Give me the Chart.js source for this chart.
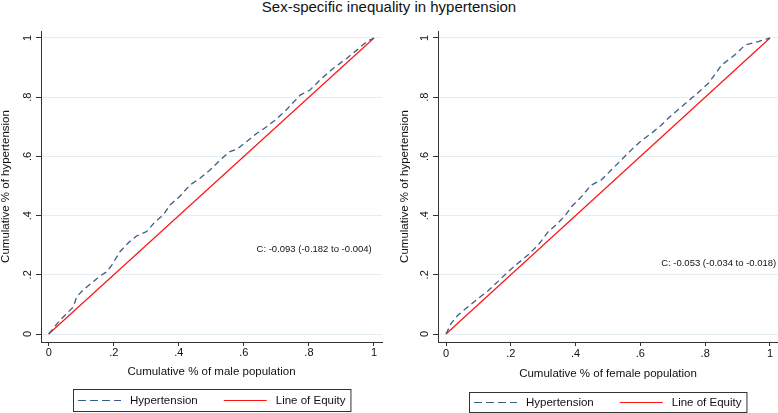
<!DOCTYPE html>
<html>
<head>
<meta charset="utf-8">
<script src="https://cdn.jsdelivr.net/npm/chart.js@4.4.0/dist/chart.umd.min.js"></script>
<style>
  body { margin: 0; background: #fff; width: 778px; height: 413px; position: relative; overflow: hidden; font-family: "Liberation Sans", Arial, sans-serif; }
  #title { position: absolute; top: -2px; left: 0; width: 778px; text-align: center; font-size: 15px; line-height: 18px; color: #111; }
  .panel { position: absolute; top: 0; width: 389px; height: 413px; }
</style>
</head>
<body>
<div id="title">Sex-specific inequality in hypertension</div>
<div class="panel" style="left:0"><canvas id="male" width="389" height="413"></canvas></div>
<div class="panel" style="left:389px"><canvas id="female" width="389" height="413"></canvas></div>
<script>
// ticks shared by both panels
var tickValues = [0, 0.2, 0.4, 0.6, 0.8, 1];
var tickLabels = ['0', '.2', '.4', '.6', '.8', '1'];
var seriesNames = ['Hypertension', 'Line of Equity'];

// concentration curve, men
var maleX = [0, 0.035, 0.076, 0.086, 0.106, 0.137, 0.158, 0.178, 0.194, 0.219, 0.245, 0.27, 0.301, 0.327, 0.352, 0.373, 0.404, 0.434, 0.465, 0.496, 0.527, 0.557, 0.578, 0.609, 0.64, 0.67, 0.70, 0.73, 0.773, 0.803, 0.834, 0.875, 0.916, 0.947, 0.978, 1];
var maleY = [0, 0.047, 0.092, 0.126, 0.149, 0.177, 0.196, 0.21, 0.233, 0.278, 0.308, 0.331, 0.346, 0.379, 0.402, 0.436, 0.466, 0.503, 0.526, 0.554, 0.588, 0.616, 0.624, 0.65, 0.678, 0.70, 0.726, 0.757, 0.807, 0.824, 0.858, 0.898, 0.931, 0.959, 0.988, 1];

// concentration curve, women
var femaleX = [0, 0.016, 0.037, 0.068, 0.099, 0.13, 0.16, 0.191, 0.222, 0.253, 0.284, 0.315, 0.346, 0.371, 0.387, 0.418, 0.448, 0.479, 0.51, 0.541, 0.572, 0.603, 0.634, 0.665, 0.686, 0.727, 0.769, 0.81, 0.851, 0.892, 0.923, 0.964, 1];
var femaleY = [0, 0.036, 0.064, 0.092, 0.12, 0.146, 0.177, 0.21, 0.239, 0.267, 0.30, 0.345, 0.375, 0.405, 0.43, 0.464, 0.503, 0.52, 0.554, 0.588, 0.622, 0.653, 0.678, 0.706, 0.729, 0.768, 0.807, 0.847, 0.909, 0.943, 0.976, 0.988, 1];

var equityX = [0, 1];
var equityY = [0, 1];

var maleNote = 'C: -0.093 (-0.182 to -0.004)';
var femaleNote = 'C: -0.053 (-0.034 to -0.018)';

var FONT = '"Liberation Sans", Arial, sans-serif';
var AXIS = '#333';
var TEXT = '#111';

function points(xs, ys) {
    return xs.map(function (x, i) { return { x: x, y: ys[i] }; });
}

// note text drawn at a data position
var notePlugin = {
    id: 'note',
    afterDatasetsDraw: function (chart, args, opts) {
        var ctx = chart.ctx;
        ctx.save();
        ctx.font = '9.5px ' + FONT;
        ctx.fillStyle = TEXT;
        ctx.textAlign = 'left';
        ctx.textBaseline = 'middle';
        ctx.fillText(opts.text, chart.scales.x.getPixelForValue(opts.x), chart.scales.y.getPixelForValue(opts.y));
        ctx.restore();
    }
};

// stata style legend: one row in a box under the x title
var boxLegend = {
    id: 'boxLegend',
    afterDraw: function (chart, args, opts) {
        var ctx = chart.ctx, ca = chart.chartArea;
        var sample = 43, gapText = 9, gapItem = 26, padX = 5;
        ctx.save();
        ctx.font = '11.5px ' + FONT;
        var items = chart.data.datasets.map(function (d) {
            return { label: d.label, color: d.borderColor, dash: d.borderDash ? [8, 4] : [], w: sample + gapText + ctx.measureText(d.label).width };
        });
        var total = items.reduce(function (s, it) { return s + it.w; }, 0) + gapItem * (items.length - 1);
        var x = Math.round((ca.left + ca.right) / 2 - total / 2);
        var cy = Math.round(ca.bottom + opts.offset);
        ctx.strokeStyle = AXIS;
        ctx.lineWidth = 1;
        ctx.strokeRect(x - padX + 0.5, cy - opts.half + 0.5, total + 2 * padX, opts.half * 2);
        items.forEach(function (it) {
            ctx.strokeStyle = it.color;
            ctx.lineWidth = 1.2;
            ctx.setLineDash(it.dash);
            ctx.beginPath();
            ctx.moveTo(x, cy + 0.5);
            ctx.lineTo(x + sample, cy + 0.5);
            ctx.stroke();
            ctx.setLineDash([]);
            ctx.fillStyle = TEXT;
            ctx.textAlign = 'left';
            ctx.textBaseline = 'middle';
            ctx.fillText(it.label, x + sample + gapText, cy + 1);
            x += it.w + gapItem;
        });
        ctx.restore();
    }
};

function makePanel(id, xs, ys, xTitle, note, frame) {
    return new Chart(document.getElementById(id), {
        type: 'line',
        data: {
            datasets: [{
                label: seriesNames[0],
                data: points(xs, ys),
                borderColor: '#3b5e84',
                borderWidth: 1.3,
                borderDash: [6, 4],
                pointRadius: 0,
                fill: false,
                tension: 0
            }, {
                label: seriesNames[1],
                data: points(equityX, equityY),
                borderColor: '#ff1414',
                borderWidth: 1.2,
                pointRadius: 0,
                fill: false,
                tension: 0
            }]
        },
        options: {
            responsive: false,
            animation: false,
            layout: { padding: { top: 31, left: 0, right: frame.right, bottom: frame.bottom } },
            plugins: {
                legend: { display: false },
                tooltip: { enabled: false },
                note: note,
                boxLegend: { offset: frame.legendOffset, half: frame.legendHalf }
            },
            scales: {
                x: {
                    type: 'linear',
                    min: frame.xMin,
                    max: frame.xMax,
                    afterBuildTicks: function (s) { s.ticks = tickValues.map(function (v) { return { value: v }; }); },
                    afterFit: function (s) { s.height = frame.xHeight; },
                    ticks: {
                        callback: function (v, i) { return tickLabels[i]; },
                        font: { family: FONT, size: 11 },
                        color: TEXT,
                        padding: frame.xTickPad,
                        maxRotation: 0,
                        autoSkip: false
                    },
                    grid: { drawOnChartArea: false, tickLength: 4, tickColor: AXIS },
                    border: { color: AXIS, width: 1 },
                    title: { display: true, text: xTitle, font: { family: FONT, size: 11.5 }, color: TEXT, padding: 0 }
                },
                y: {
                    type: 'linear',
                    min: -0.027,
                    max: 1.0236,
                    afterBuildTicks: function (s) { s.ticks = tickValues.map(function (v) { return { value: v }; }); },
                    afterFit: function (s) { s.width = frame.yWidth; },
                    ticks: {
                        callback: function (v, i) { return tickLabels[i]; },
                        font: { family: FONT, size: 11 },
                        color: TEXT,
                        padding: 3,
                        minRotation: 90,
                        maxRotation: 90,
                        crossAlign: 'center',
                        autoSkip: false
                    },
                    grid: { color: '#e4edf0', lineWidth: 1, tickLength: 5, tickColor: AXIS },
                    border: { color: AXIS, width: 1 },
                    title: { display: true, text: 'Cumulative % of hypertension', font: { family: FONT, size: 11.5 }, color: TEXT, padding: { top: frame.yTitlePad, bottom: 0 } }
                }
            }
        },
        plugins: [notePlugin, boxLegend]
    });
}

makePanel('male', maleX, maleY, 'Cumulative % of male population',
    { text: maleNote, x: 0.639, y: 0.286 },
    { right: 7, bottom: 34, xHeight: 37, xTickPad: 0, yWidth: 41, yTitlePad: -1.5, xMin: -0.0237, xMax: 1.0246, legendOffset: 58, legendHalf: 11 });

makePanel('female', femaleX, femaleY, 'Cumulative % of female population',
    { text: femaleNote, x: 0.664, y: 0.239 },
    { right: 0, bottom: 32, xHeight: 39, xTickPad: 1, yWidth: 49, yTitlePad: 9, xMin: -0.0247, xMax: 1.0247, legendOffset: 60, legendHalf: 10 });
</script>
</body>
</html>
